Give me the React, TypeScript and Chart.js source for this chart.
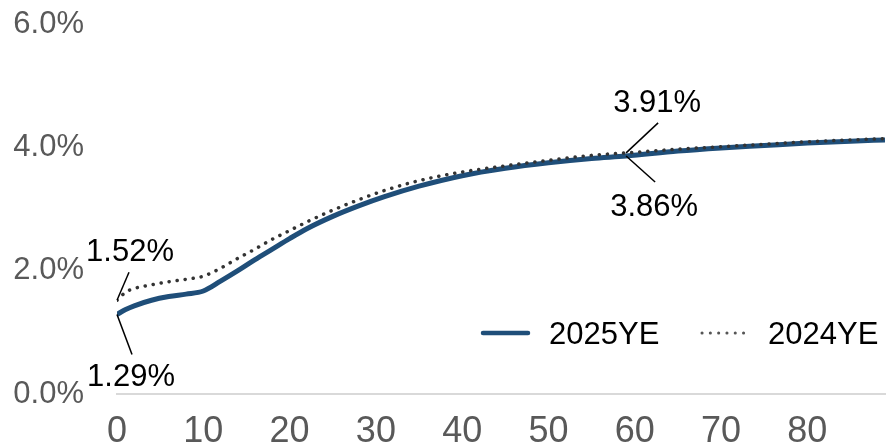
import React, { useEffect, useRef } from "react";
import { Chart, registerables } from "chart.js";

Chart.register(...registerables);

const xValues = [0, 1, 2, 4, 6, 8, 10, 12, 14, 16, 18, 20, 22, 25, 28, 31, 35, 40, 45, 50, 55, 59, 65, 70, 75, 80, 85, 89];
const series2025 = [1.29, 1.37, 1.43, 1.52, 1.58, 1.62, 1.67, 1.83, 2.0, 2.18, 2.35, 2.52, 2.68, 2.88, 3.05, 3.2, 3.37, 3.54, 3.66, 3.75, 3.82, 3.86, 3.94, 3.99, 4.03, 4.07, 4.1, 4.12];
const series2024 = [1.52, 1.65, 1.71, 1.77, 1.82, 1.86, 1.91, 2.04, 2.2, 2.35, 2.51, 2.65, 2.79, 2.98, 3.15, 3.3, 3.46, 3.6, 3.7, 3.79, 3.87, 3.91, 3.97, 4.01, 4.05, 4.09, 4.12, 4.14];
const seriesNames = ["2025YE", "2024YE"];
const yTicks = [0, 2, 4, 6];
const xTickStep = 10;

const BLUE = "#1f4e79";
const DOT = "#333333";
const FONT = "'Liberation Sans', Arial, sans-serif";

// annotation: dataset index, x value, label, line end offset, text centre offset
const annotations = [
  { ds: 1, x: 0, text: "1.52%", lx: 12, ly: -28, tx: 13, ty: -50 },
  { ds: 0, x: 0, text: "1.29%", lx: 15, ly: 40, tx: 14, ty: 61 },
  { ds: 1, x: 59, text: "3.91%", lx: 32, ly: -30, tx: 31, ty: -51 },
  { ds: 0, x: 59, text: "3.86%", lx: 29, ly: 26, tx: 28, ty: 49 },
];

const annotationPlugin = {
  id: "annotations",
  afterDatasetsDraw(chart: any) {
    const ctx = chart.ctx;
    const xs = chart.scales.x;
    const ys = chart.scales.y;
    ctx.save();
    annotations.forEach((a) => {
      const idx = xValues.indexOf(a.x);
      const val = (a.ds === 0 ? series2025 : series2024)[idx];
      const px = xs.getPixelForValue(a.x);
      const py = ys.getPixelForValue(val);
      ctx.strokeStyle = "#000";
      ctx.lineWidth = 1.5;
      ctx.beginPath();
      ctx.moveTo(px, py);
      ctx.lineTo(px + a.lx, py + a.ly);
      ctx.stroke();
      ctx.fillStyle = "#000";
      ctx.font = `31px ${FONT}`;
      ctx.textAlign = "center";
      ctx.textBaseline = "middle";
      ctx.fillText(a.text, px + a.tx, py + a.ty + 2);
    });
    ctx.restore();
  },
  afterDraw(chart: any) {
    const ctx = chart.ctx;
    const ca = chart.chartArea;
    const y = ca.bottom - 61;
    const right = ca.right;
    ctx.save();
    ctx.strokeStyle = BLUE;
    ctx.lineWidth = 4.5;
    ctx.lineCap = "round";
    ctx.beginPath();
    ctx.moveTo(right - 402, y);
    ctx.lineTo(right - 357, y);
    ctx.stroke();
    ctx.strokeStyle = "#555555";
    ctx.lineWidth = 3;
    ctx.setLineDash([0.1, 8.2]);
    ctx.beginPath();
    ctx.moveTo(right - 183, y);
    ctx.lineTo(right - 140, y);
    ctx.stroke();
    ctx.setLineDash([]);
    ctx.fillStyle = "#000";
    ctx.font = `31px ${FONT}`;
    ctx.textAlign = "left";
    ctx.textBaseline = "middle";
    ctx.fillText(seriesNames[0], right - 336, y + 2);
    ctx.fillText(seriesNames[1], right - 117, y + 2);
    ctx.restore();
  },
};

export default function App() {
  const ref = useRef<HTMLCanvasElement>(null);
  useEffect(() => {
    document.body.style.margin = "0";
    const canvas = ref.current!;
    const chart = new Chart(canvas, {
      type: "line",
      data: {
        datasets: [
          {
            label: seriesNames[1],
            data: xValues.map((x, i) => ({ x, y: series2024[i] })),
            borderColor: DOT,
            borderWidth: 3.5,
            borderDash: [0.1, 8],
            borderCapStyle: "round",
            pointRadius: 0,
            cubicInterpolationMode: "monotone",
            fill: false,
            order: 0,
          },
          {
            label: seriesNames[0],
            data: xValues.map((x, i) => ({ x, y: series2025[i] })),
            borderColor: BLUE,
            borderWidth: 5,
            borderCapStyle: "round",
            borderJoinStyle: "round",
            pointRadius: 0,
            cubicInterpolationMode: "monotone",
            fill: false,
            order: 1,
          },
        ],
      },
      options: {
        animation: false,
        responsive: false,
        devicePixelRatio: 1,
        layout: { padding: { top: 24, right: 5, left: 0, bottom: 0 } },
        plugins: { legend: { display: false }, tooltip: { enabled: false } },
        scales: {
          x: {
            type: "linear",
            min: 0,
            max: 89,
            grid: { display: false, drawTicks: false },
            border: { display: true, color: "#d9d9d9", width: 2 },
            ticks: {
              stepSize: xTickStep,
              includeBounds: false,
              autoSkip: false,
              maxRotation: 0,
              padding: 16,
              color: "#595959",
              font: { family: FONT, size: 36 },
            },
            afterFit(scale: any) {
              scale.height = 50;
              scale.paddingLeft = 0;
              scale.paddingRight = 0;
              scale.paddingTop = 0;
              scale.paddingBottom = 0;
            },
          },
          y: {
            type: "linear",
            min: yTicks[0],
            max: yTicks[yTicks.length - 1],
            grid: { display: false, drawTicks: false },
            border: { display: false },
            afterBuildTicks(scale: any) {
              scale.ticks = yTicks.map((v) => ({ value: v }));
            },
            ticks: {
              padding: 33,
              color: "#595959",
              font: { family: FONT, size: 31 },
              callback: (v: any) => Number(v).toFixed(1) + "%",
            },
            afterFit(scale: any) {
              scale.width = 117;
              scale.paddingTop = 0;
              scale.paddingBottom = 0;
              scale.paddingLeft = 0;
              scale.paddingRight = 0;
            },
          },
        },
      },
      plugins: [annotationPlugin],
    } as any);
    return () => chart.destroy();
  }, []);
  return <canvas ref={ref} width={890} height={444} style={{ display: "block" }} />;
}
